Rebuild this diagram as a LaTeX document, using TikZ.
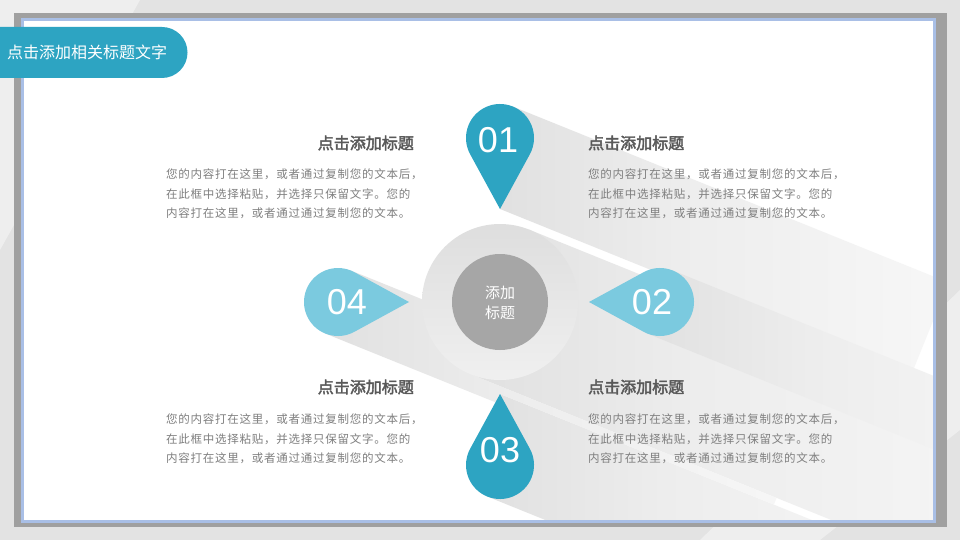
\documentclass[tikz,border=0pt]{standalone}
\usepackage{fontspec}
\setmainfont{Noto Sans CJK SC}[AutoFakeBold=2.5]
\newfontfamily\numfont{Liberation Sans}
\usetikzlibrary{calc}

\definecolor{tealdark}{HTML}{2DA4C2}
\definecolor{teallight}{HTML}{7BCADF}
\definecolor{framegray}{HTML}{A0A0A0}
\definecolor{frameblue}{HTML}{A9BFE6}
\definecolor{headgray}{HTML}{595959}
\definecolor{bodygray}{HTML}{7F7F7F}
\definecolor{bggray}{HTML}{E3E3E3}
\definecolor{innergray}{HTML}{A6A6A6}

\pgfdeclarehorizontalshading{bandfade}{100bp}{color(0bp)=(black!18); color(45bp)=(black!7); color(100bp)=(white)}

\tikzset{
  heading/.style={font=\fontsize{16}{18}\selectfont\bfseries, text=headgray, inner sep=0pt},
  bodytext/.style={font=\fontsize{11.5}{19.5}\selectfont\addfontfeature{LetterSpace=6.5}, text=bodygray, align=left, inner sep=0pt},
  number/.style={font=\numfont\fontsize{36}{36}\selectfont, text=white, inner sep=0pt},
  longshadow/.style={shading=bandfade, blend mode=darken},
}

\begin{document}
\begin{tikzpicture}[x=1pt,y=-1pt]
%Define Coordinates
\coordinate (c0) at (500,302);
\coordinate (d1) at (500,138);
\coordinate (d2) at (660,302);
\coordinate (d3) at (500,465);
\coordinate (d4) at (338,302);

\useasboundingbox (0,0) rectangle (960,540);

%Background and frame
\fill[bggray] (0,0) rectangle (960,540);
\fill[white,opacity=0.4] (0,0) -- (0,250) -- (140,0) -- cycle;
\fill[white,opacity=0.4] (960,290) -- (960,430) -- (820,540) -- (700,540) -- cycle;
\fill[framegray] (14,13) rectangle (947,527);
\draw[frameblue, line width=3, fill=white] (22.5,19.5) rectangle (934.5,521.5);

%Long shadows
\begin{scope}
\clip (24,21) rectangle (933,520);
\begin{scope}[shift={(c0)}, rotate=-22]
\shade[longshadow] (0,-78) rectangle (560,78);
\end{scope}
\begin{scope}[shift={(d1)}, rotate=-22]
\shade[longshadow] (0,-34) -- (26.6,65.8) -- (470,65.8) -- (470,-34) -- cycle;
\end{scope}
\begin{scope}[shift={(d2)}, rotate=-22]
\shade[longshadow] (0,-34) rectangle (420,34);
\end{scope}
\begin{scope}[shift={(d3)}, rotate=-22]
\shade[longshadow] (-26.6,-65.8) -- (0,34) -- (440,34) -- (440,-65.8) -- cycle;
\end{scope}
\begin{scope}[shift={(d4)}, rotate=-22]
\shade[longshadow] (0,-34) rectangle (480,34);
\end{scope}
\end{scope}

%Centre circle
\shade[top color=black!13, bottom color=black!6] (c0) circle (78);
\fill[innergray] (c0) circle (48);
\node[font=\fontsize{15}{20}\selectfont, text=white, align=center, inner sep=0pt] (ct) at (500,303) {添加\\标题};

%Drops
\foreach \c/\a/\col in {d1/90/tealdark, d2/180/teallight, d3/270/tealdark, d4/0/teallight}
{
\fill[\col] ($(\c)+(\a:71)$) -- ($(\c)+(\a+61:34)$) arc[start angle=\a+61, delta angle=238, radius=34] -- cycle;
}
\node[number] (n1) at (498,140) {01};
\node[number] (n2) at (652,302) {02};
\node[number] (n3) at (500,450) {03};
\node[number] (n4) at (347,302) {04};

%Title tab
\fill[tealdark] (0,27) -- (162,27) arc[start angle=-90, end angle=90, radius=25.5] -- (0,78) -- cycle;
\node[anchor=west, text=white, font=\fontsize{16}{18}\selectfont, inner sep=0pt] (title) at (7,52) {点击添加相关标题文字};

%Headings and texts
\node[heading, anchor=east] (h1) at (414,143) {点击添加标题};
\node[heading, anchor=west] (h2) at (588,143) {点击添加标题};
\node[heading, anchor=east] (h3) at (414,387) {点击添加标题};
\node[heading, anchor=west] (h4) at (588,387) {点击添加标题};

\node[bodytext, anchor=north west] (t1) at (166,169) {您的内容打在这里，或者通过复制您的文本后，\\在此框中选择粘贴，并选择只保留文字。您的\\内容打在这里，或者通过通过复制您的文本。};
\node[bodytext, anchor=north west] (t2) at (588,169) {您的内容打在这里，或者通过复制您的文本后，\\在此框中选择粘贴，并选择只保留文字。您的\\内容打在这里，或者通过通过复制您的文本。};
\node[bodytext, anchor=north west] (t3) at (166,414) {您的内容打在这里，或者通过复制您的文本后，\\在此框中选择粘贴，并选择只保留文字。您的\\内容打在这里，或者通过通过复制您的文本。};
\node[bodytext, anchor=north west] (t4) at (588,414) {您的内容打在这里，或者通过复制您的文本后，\\在此框中选择粘贴，并选择只保留文字。您的\\内容打在这里，或者通过通过复制您的文本。};

\end{tikzpicture}
\end{document}
